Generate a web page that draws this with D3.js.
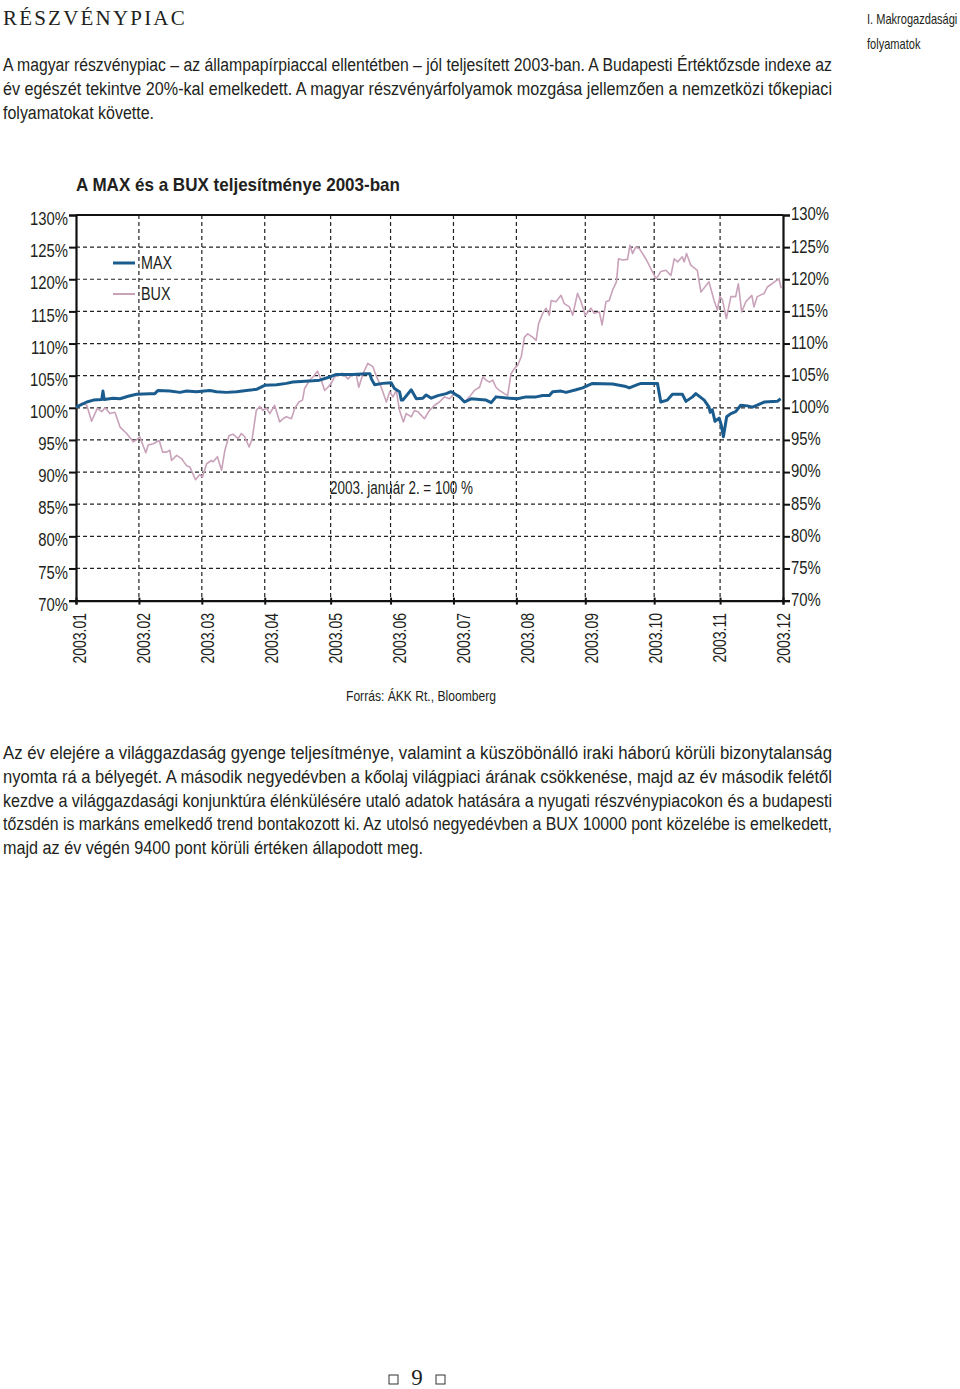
<!DOCTYPE html>
<html>
<head>
<meta charset="utf-8">
<script src="https://cdn.jsdelivr.net/npm/d3@7"></script>
<style>
  html, body { margin: 0; padding: 0; background: #fff; }
  svg { display: block; }
  .nar { font-family: 'Liberation Sans', Arial, sans-serif; fill: #231f20; }
  .ser { font-family: 'Liberation Serif', 'DejaVu Serif', serif; fill: #231f20; }
</style>
</head>
<body>
<svg id="page" width="960" height="1389"></svg>
<script>
// ---------------- DATA ----------------
const monthLabels = ["2003.01","2003.02","2003.03","2003.04","2003.05","2003.06","2003.07","2003.08","2003.09","2003.10","2003.11","2003.12"];
// trading-day index of each month boundary (gridlines)
const monthTickIdx = [0,21,42,63,85,105,126,147,170,193,215,236];
const yTicks = [70,75,80,85,90,95,100,105,110,115,120,125,130];

// [trading-day index, % of 2003-01-02 level]
const maxSeries = [
 [0,100.1],[3.6,100.9],[5.8,101.2],[8.6,101.3],[9.0,102.6],[9.4,101.3],[12.4,101.5],[14.7,101.4],
 [17.4,101.8],[20.2,102.1],[24.7,102.2],[26.3,102.2],[27.4,102.7],[31.3,102.6],[34.7,102.4],[36.9,102.6],
 [40.2,102.5],[44.7,102.7],[46.9,102.5],[50.2,102.4],[53.6,102.5],[56.9,102.7],[59,102.8],[60.4,102.9],
 [63,103.5],[67,103.6],[70.2,103.8],[72.4,104.0],[79.1,104.2],[81.3,104.3],[84.7,104.8],[86.9,105.2],
 [92.4,105.2],[96.9,105.3],[98.1,105.3],[98.6,104.5],[99.7,103.6],[102.4,103.8],[105.2,103.9],[106.3,103.0],
 [108,102.5],[108.6,101.2],[109.1,101.2],[111.9,102.8],[113.6,101.4],[115.8,101.5],[116.9,102.0],[118.6,101.5],
 [120.8,101.9],[123.6,102.2],[125.2,102.5],[126.3,102.2],[128,101.7],[129.7,100.9],[131.9,101.4],[134.7,101.3],
 [136.9,101.2],[138.6,100.8],[140.2,101.7],[144.7,101.5],[147.4,101.4],[150.2,101.7],[153.6,101.7],[155.8,101.9],
 [158,101.9],[159.1,102.5],[161.9,102.6],[163.6,102.4],[166.9,102.8],[169.1,103.1],[172.4,103.8],[179.1,103.7],
 [183.6,103.3],[184.7,103.1],[187.4,103.6],[188.6,103.8],[194.1,103.8],[195.2,100.9],[197.4,101.2],[199.1,102.1],
 [202.4,102.1],[203.6,101.0],[205.8,101.7],[206.9,102.2],[209.7,101.2],[211.3,100.1],[211.7,99.3],[212.4,99.7],
 [213.3,97.9],[214.7,98.4],[215.4,97.3],[216.1,95.5],[217.2,98.6],[218.6,99.1],[220.2,99.4],[221.9,100.4],
 [224.1,100.3],[225.8,100.1],[227.4,100.4],[229.7,100.9],[234.1,101.0],[235.2,101.4]
];

const buxSeries = [
 [0,100.0],[1.9,100.7],[3.6,100.4],[5.2,97.9],[7.1,99.9],[8.6,99.4],[9.7,100.0],[11.3,99.1],[13,99.3],
 [14.7,97.0],[16.9,96.0],[19.1,94.7],[20.2,95.0],[21.3,95.5],[23.3,93.0],[24.1,94.2],[25.8,94.4],[27.8,94.9],
 [28.9,93.1],[30.2,93.1],[31.3,93.4],[31.9,91.8],[33.6,92.6],[35.2,92.1],[36.9,91.0],[38,90.8],[39.9,88.8],
 [41.3,89.6],[42.2,89.2],[43.6,91.3],[45.2,91.8],[45.8,91.6],[47.2,92.4],[48.6,90.3],[49.7,93.4],[51.1,95.7],
 [52.4,95.9],[54.1,95.2],[55.2,96.0],[56.3,95.5],[57.8,93.9],[58.8,95.2],[60.2,99.6],[61.3,100.2],[62.4,99.6],
 [63.6,100.0],[64.7,99.1],[66.3,100.4],[68,97.8],[69.1,98.3],[70.2,98.6],[71.9,98.3],[73,99.9],[74.4,100.9],
 [75.6,101.2],[76.3,103.0],[78,104.3],[79.1,104.8],[80.6,105.7],[81.9,104.3],[83,102.7],[84.1,103.2],[85.2,103.8],
 [86.3,104.8],[88.9,105.4],[90.8,104.5],[92.4,105.3],[93.6,105.0],[94.4,103.2],[95.8,105.3],[97.4,106.9],
 [99.1,106.4],[100.2,105.0],[101.9,103.2],[103.6,100.9],[104.7,102.5],[105.8,101.7],[106.9,102.7],[108,99.6],
 [109.3,97.8],[110.2,99.1],[111.9,98.6],[113,99.6],[114.1,99.4],[116.3,98.3],[118,99.6],[119.7,100.4],
 [121.3,100.9],[123,101.7],[124.7,101.4],[126.3,102.2],[128,101.7],[129.7,100.9],[131.3,101.7],[133,102.7],
 [134.7,103.2],[135.8,104.8],[136.9,104.3],[138,104.0],[139.1,104.3],[140.2,103.2],[141.3,102.7],[143,102.2],
 [144.1,101.9],[145.2,105.3],[146.3,106.1],[147.4,106.6],[148.6,107.9],[149.7,111.0],[150.8,111.5],[152.4,111.0],
 [153.6,110.5],[154.4,113.1],[155.8,114.7],[156.9,115.5],[158,114.4],[158.6,116.7],[160.2,116.5],[161.9,117.5],
 [163,116.2],[164.7,115.7],[165.8,114.4],[167.4,117.8],[168.6,116.5],[170,114.4],[171.9,115.5],[173,114.7],
 [174.7,114.9],[175.6,112.9],[176.9,116.5],[178,116.7],[179.1,118.3],[180.4,119.6],[181.1,123.2],[182.4,123.0],
 [184.1,123.1],[184.9,125.3],[185.8,124.0],[186.8,125.0],[188,124.8],[190.2,123.2],[192.4,121.2],[193.6,120.1],
 [194.4,120.6],[195.2,121.2],[196.9,121.4],[198.6,120.6],[199.7,123.2],[200.8,122.7],[202.4,123.5],[203,122.7],
 [203.8,124.0],[205.2,122.2],[207.4,121.4],[208.6,118.0],[211.3,119.6],[213,116.7],[214.1,115.2],[214.9,117.3],
 [215.8,116.8],[217.1,113.9],[218.6,117.3],[220.2,117.3],[221.1,119.3],[222.2,114.9],[223.6,116.5],[225.6,117.5],
 [226.3,115.7],[227.4,117.3],[229.7,117.8],[230.8,118.8],[234.1,119.9],[234.7,120.0],[235.4,118.6]
];

const seriesNames = ["MAX", "BUX"];
const seriesColors = ["#1b5c8e", "#c9a2ba"];

const headTitle = "RÉSZVÉNYPIAC";
const sideHead = ["I. Makrogazdasági", "folyamatok"];
const introLines = [
 "A magyar részvénypiac – az állampapírpiaccal ellentétben – jól teljesített 2003-ban. A Budapesti Értéktőzsde indexe az",
 "év egészét tekintve 20%-kal emelkedett. A magyar részvényárfolyamok mozgása jellemzően a nemzetközi tőkepiaci",
 "folyamatokat követte."
];
const chartTitle = "A MAX és a BUX teljesítménye 2003-ban";
const baseNote = "2003. január 2. = 100 %";
const sourceNote = "Forrás: ÁKK Rt., Bloomberg";
const bodyLines = [
 "Az év elejére a világgazdaság gyenge teljesítménye, valamint a küszöbönálló iraki háború körüli bizonytalanság",
 "nyomta rá a bélyegét. A második negyedévben a kőolaj világpiaci árának csökkenése, majd az év második felétől",
 "kezdve a világgazdasági konjunktúra élénkülésére utaló adatok hatására a nyugati részvénypiacokon és a budapesti",
 "tőzsdén is markáns emelkedő trend bontakozott ki. Az utolsó negyedévben a BUX 10000 pont közelébe is emelkedett,",
 "majd az év végén 9400 pont körüli értéken állapodott meg."
];
const pageNo = "9";

// ---------------- HELPERS ----------------
const svg = d3.select("#page");
function narrow(sel, f = 0.82) {
  sel.each(function () {
    const w = this.getComputedTextLength();
    d3.select(this).attr("textLength", w * f).attr("lengthAdjust", "spacingAndGlyphs");
  });
  return sel;
}
function fitTo(sel, w) {
  return sel.attr("textLength", w).attr("lengthAdjust", "spacingAndGlyphs");
}

// ---------------- HEADER ----------------
svg.append("text").attr("class","ser").attr("x",3).attr("y",25)
  .attr("font-size",21).attr("letter-spacing",2.2).text(headTitle);
// side header: condensed via a horizontal scale transform
sideHead.forEach((t,i)=>{
  svg.append("text").attr("class","nar")
    .attr("transform",`translate(867,${24+i*25}) scale(0.79,1)`)
    .attr("font-size",14).attr("fill","#444").text(t);
});

function para(lines, x, y0, lh, width, size, lastW){
  lines.forEach((t,i)=>{
    const tx = svg.append("text").attr("class","nar").attr("x",x).attr("y",y0+i*lh)
      .attr("font-size",size).text(t);
    fitTo(tx, i < lines.length-1 ? width : lastW);
  });
}
para(introLines, 3, 71, 24, 829, 18, 151);

// ---------------- CHART ----------------
const x = d3.scaleLinear().domain([0,236]).range([76,783]);
const y = d3.scaleLinear().domain([70,130]).range([600.6,215]);
const labelX = d3.scalePoint().domain(monthLabels).range([80,784]);

fitTo(svg.append("text").attr("class","nar").attr("x",76).attr("y",191)
  .attr("font-size",18.5).attr("font-weight","bold").text(chartTitle), 324);

const grid = svg.append("g");
grid.selectAll("line.h").data(yTicks.filter(v=>v>70 && v<130)).join("line")
  .attr("x1",x(0)).attr("x2",x(236)).attr("y1",d=>y(d)).attr("y2",d=>y(d))
  .attr("stroke","#222").attr("stroke-width",1.2).attr("stroke-dasharray","4,3");
grid.selectAll("line.v").data(monthTickIdx.slice(1,-1)).join("line")
  .attr("x1",d=>x(d)).attr("x2",d=>x(d)).attr("y1",y(130)).attr("y2",y(70))
  .attr("stroke","#222").attr("stroke-width",1.2).attr("stroke-dasharray","4,3");

const leftAxis = d3.axisLeft(y).tickValues(yTicks).tickFormat(d=>d+"%").tickSize(7).tickPadding(1);
const rightAxis = d3.axisRight(y).tickValues(yTicks).tickFormat(d=>d+"%").tickSize(7).tickPadding(1);
const bottomAxis = d3.axisBottom(x).tickValues(monthTickIdx).tickFormat("").tickSize(4);

const gl = svg.append("g").attr("transform",`translate(${x(0)},0)`).call(leftAxis);
const gr = svg.append("g").attr("transform",`translate(${x(236)},0)`).call(rightAxis);
const gb = svg.append("g").attr("transform",`translate(0,${y(70)})`).call(bottomAxis);

[gl,gr,gb].forEach(g=>{
  g.select(".domain").attr("stroke","#111").attr("stroke-width",2.2);
  g.selectAll(".tick line").attr("stroke","#111").attr("stroke-width",2);
  g.selectAll("text").attr("class","nar").attr("font-size",17.5).attr("fill","#231f20");
});
gl.selectAll(".tick text").attr("dy","0.55em");
gr.selectAll(".tick text").attr("dy","0.28em");
narrow(gl.selectAll(".tick text"), 0.85);
narrow(gr.selectAll(".tick text"), 0.85);
gb.selectAll(".tick line").attr("y1",-3);

const xl = svg.append("g").selectAll("text").data(monthLabels).join("text")
  .attr("class","nar").attr("font-size",17.5).attr("text-anchor","end")
  .attr("transform",d=>`translate(${labelX(d)+6},613) rotate(-90)`)
  .text(d=>d);
narrow(xl, 0.8);

svg.append("line").attr("x1",x(0)).attr("x2",x(236)).attr("y1",y(130)).attr("y2",y(130))
  .attr("stroke","#111").attr("stroke-width",2);

const line = d3.line().x(d=>x(d[0])).y(d=>y(d[1]));
svg.append("path").datum(buxSeries).attr("d",line).attr("fill","none")
  .attr("stroke",seriesColors[1]).attr("stroke-width",1.6).attr("stroke-linejoin","round");
svg.append("path").datum(maxSeries).attr("d",line).attr("fill","none")
  .attr("stroke",seriesColors[0]).attr("stroke-width",3).attr("stroke-linejoin","round");

const leg = svg.append("g");
seriesNames.forEach((n,i)=>{
  const yy = 263 + i*31;
  leg.append("line").attr("x1",113).attr("x2",135).attr("y1",yy).attr("y2",yy)
    .attr("stroke",seriesColors[i]).attr("stroke-width",i===0?3:2);
  narrow(leg.append("text").attr("class","nar").attr("x",141).attr("y",yy+6)
    .attr("font-size",17.5).text(n), 0.82);
});

fitTo(svg.append("text").attr("class","nar").attr("x",330).attr("y",494).attr("font-size",17.5).text(baseNote), 143);
fitTo(svg.append("text").attr("class","nar").attr("x",346).attr("y",701)
  .attr("font-size",14).text(sourceNote), 150);

para(bodyLines, 3, 759, 23.8, 829, 18, 420);

svg.append("text").attr("class","ser").attr("x",417).attr("y",1385).attr("text-anchor","middle")
  .attr("font-size",23).text(pageNo);
[389,436].forEach(px=>{
  svg.append("rect").attr("x",px).attr("y",1375).attr("width",9).attr("height",9)
    .attr("fill","none").attr("stroke","#333").attr("stroke-width",1);
});
</script>
</body>
</html>
